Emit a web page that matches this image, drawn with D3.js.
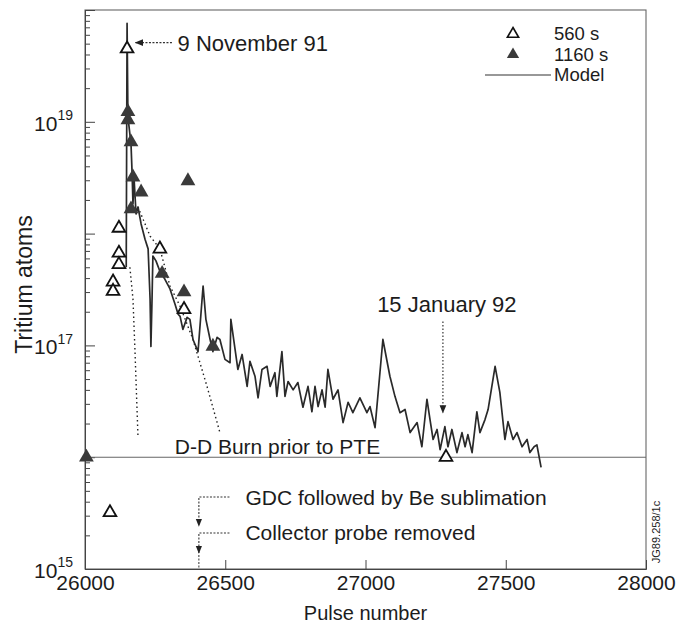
<!DOCTYPE html>
<html>
<head>
<meta charset="utf-8">
<script src="https://cdn.jsdelivr.net/npm/d3@7"></script>
<style>
	body { margin: 0; background: #fff; }
	text { font-family: "Liberation Sans", Arial, Helvetica, sans-serif; fill: #1c1c1c; }
</style>
</head>
<body>
<div id="chart"></div>
<script>

// model curve (pulse number, tritium atoms)
const modelPulse = [ 26147, 26150, 26153, 26164, 26168, 26171, 26175, 26182, 26189, 26200,
	26214, 26225, 26232, 26235, 26239, 26242, 26253, 26267, 26285, 26303,
	26321, 26332, 26339, 26349, 26364, 26374, 26385, 26403, 26421, 26431,
	26446, 26456, 26471, 26481, 26499, 26517, 26520, 26535, 26545, 26560,
	26578, 26588, 26606, 26617, 26631, 26649, 26660, 26677, 26684, 26702,
	26713, 26724, 26742, 26759, 26777, 26795, 26809, 26820, 26831, 26845,
	26856, 26866, 26884, 26902, 26920, 26938, 26955, 26980, 27005, 27016,
	27034, 27062, 27087, 27105, 27123, 27141, 27159, 27184, 27201, 27219,
	27230, 27241, 27255, 27266, 27283, 27294, 27308, 27326, 27344, 27355,
	27365, 27380, 27397, 27408, 27426, 27437, 27462, 27479, 27497, 27508,
	27526, 27540, 27558, 27576, 27586, 27601, 27611, 27626 ];
const modelAtoms = [ 5.0e17, 7.6e19, 1.11e19, 6.35e18, 3.42e18, 1.84e18, 3.08e18, 1.5e18, 1.73e18, 1.22e18,
	8.9e17, 7.3e17, 2.6e17, 9.8e16, 2.6e17, 6.3e17, 5.7e17, 4.6e17, 3.9e17, 3.2e17,
	2.33e17, 1.9e17, 1.82e17, 1.39e17, 1.78e17, 1.71e17, 1.13e17, 8.8e16, 3.4e17, 1.71e17,
	1.13e17, 8.8e16, 1.18e17, 1.13e17, 7.5e16, 7.0e16, 1.71e17, 9.2e16, 6.1e16, 8.3e16,
	4.3e16, 7.2e16, 5.3e16, 3.4e16, 6.1e16, 6.5e16, 4.3e16, 5.7e16, 3.5e16, 8.8e16,
	3.5e16, 4.75e16, 4.0e16, 4.65e16, 2.8e16, 4.3e16, 2.55e16, 4.3e16, 2.84e16, 4.0e16,
	2.8e16, 6.1e16, 3.3e16, 4.0e16, 2.04e16, 3.1e16, 2.5e16, 3.4e16, 2.5e16, 2.84e16,
	1.84e16, 1.13e17, 5.3e16, 3.5e16, 2.5e16, 2.67e16, 1.66e16, 2.04e16, 1.24e16, 3.3e16,
	2.17e16, 1.44e16, 1.77e16, 1.17e16, 1.88e16, 1.24e16, 1.77e16, 1.1e16, 1.66e16, 1.24e16,
	1.59e16, 1.1e16, 2.55e16, 1.66e16, 2.17e16, 2.67e16, 6.5e16, 3.8e16, 1.44e16, 2.08e16,
	1.44e16, 1.66e16, 1.24e16, 1.44e16, 1.1e16, 1.24e16, 1.29e16, 8.1e15 ];

// measured, 560 s (open triangles)
const pulse560 = [ 26150, 26121, 26121, 26121, 26100, 26100, 26267, 26353, 26089, 27287 ];
const atoms560 = [ 4.5e19, 1.12e18, 6.7e17, 5.3e17, 3.7e17, 3.05e17, 7.3e17, 2.1e17, 3.2e15, 1.0e16 ];

// measured, 1160 s (filled triangles)
const pulse1160 = [ 26153, 26153, 26164, 26171, 26200, 26164, 26367, 26275, 26353, 26456, 26005 ];
const atoms1160 = [ 1.23e19, 1.04e19, 6.6e18, 3.2e18, 2.35e18, 1.66e18, 2.96e18, 4.4e17, 3.0e17, 9.8e16, 1.0e16 ];

// dotted decay curves
const decay1Pulse = [ 26160, 26171, 26178, 26189 ];
const decay1Atoms = [ 5.0e17, 2.6e17, 9.2e16, 1.5e16 ];
const decay2Pulse = [ 26189, 26232, 26267, 26303, 26339, 26385, 26435, 26481 ];
const decay2Atoms = [ 1.73e18, 9.5e17, 7.3e17, 3.4e17, 2.24e17, 1.13e17, 4.3e16, 1.66e16 ];

const ddBurnLevel = 1e16;
const xTicks = [ 26000, 26500, 27000, 27500, 28000 ];
const yLabelExp = [ 15, 17, 19 ];
const legendNames = [ "560 s", "1160 s", "Model" ];

///////////////////////////////////////////////////////////////////////

const width = 681, height = 630;
const margin = { top: 10, right: 35, bottom: 61, left: 85 };

const svg = d3.select( "#chart" ).append( "svg" )
	.attr( "width", width )
	.attr( "height", height );

const x = d3.scaleLinear()
	.domain( [ 26000, 28000 ] )
	.range( [ margin.left, width - margin.right ] );

const y = d3.scaleLog()
	.domain( [ 1e15, 1e20 ] )
	.range( [ height - margin.bottom, margin.top ] );

const defs = svg.append( "defs" );
defs.append( "marker" )
	.attr( "id", "head" )
	.attr( "viewBox", "0 0 10 10" )
	.attr( "refX", 9 ).attr( "refY", 5 )
	.attr( "markerWidth", 7 ).attr( "markerHeight", 7 )
	.attr( "orient", "auto" )
	.append( "path" )
		.attr( "d", "M0,1 L10,5 L0,9 Z" )
		.attr( "fill", "#222" );

// frame
svg.append( "rect" )
	.attr( "x", x.range()[ 0 ] )
	.attr( "y", y.range()[ 1 ] )
	.attr( "width", x.range()[ 1 ] - x.range()[ 0 ] )
	.attr( "height", y.range()[ 0 ] - y.range()[ 1 ] )
	.attr( "fill", "none" )
	.attr( "stroke", "#666" )
	.attr( "stroke-width", 1.1 );

// y axis, minor + major ticks pointing inward
let minor = [];
for( let e = 15; e < 20; e++ )	{
	for( let k = 2; k <= 9; k++ ) minor.push( k * Math.pow( 10, e ) );
}
let major = d3.range( 15, 21 ).map( e => Math.pow( 10, e ) );

svg.append( "g" )
	.attr( "transform", "translate(" + x.range()[ 0 ] + ",0)" )
	.call( d3.axisLeft( y ).tickValues( minor ).tickSize( -5 ).tickFormat( "" ) )
	.call( g => g.select( ".domain" ).remove() )
	.call( g => g.selectAll( "line" ).attr( "stroke", "#444" ) );

const yAxis = svg.append( "g" )
	.attr( "transform", "translate(" + x.range()[ 0 ] + ",0)" )
	.call( d3.axisLeft( y ).tickValues( major ).tickSize( -10 ).tickPadding( 12 ).tickFormat( "" ) )
	.call( g => g.select( ".domain" ).attr( "stroke", "#444" ) )
	.call( g => g.selectAll( "line" ).attr( "stroke", "#444" ) );

yAxis.selectAll( ".tick" ).each( function( d )	{
	let e = Math.round( Math.log10( d ) );
	if( yLabelExp.indexOf( e ) < 0 ) return;
	let t = d3.select( this ).select( "text" )
		.attr( "font-size", 21 )
		.attr( "fill", "#1c1c1c" )
		.attr( "dy", "0.4em" );
	t.append( "tspan" ).text( "10" );
	t.append( "tspan" ).text( e ).attr( "font-size", 14 ).attr( "dy", "-0.75em" );
} );

// x axis
svg.append( "g" )
	.attr( "transform", "translate(0," + y.range()[ 0 ] + ")" )
	.call( d3.axisBottom( x ).tickValues( xTicks ).tickSize( -9 ).tickPadding( 6 ).tickFormat( d3.format( "d" ) ) )
	.call( g => g.select( ".domain" ).attr( "stroke", "#444" ) )
	.call( g => g.selectAll( "line" ).attr( "stroke", "#444" ) )
	.call( g => g.selectAll( "text" ).attr( "font-size", 21 ).attr( "fill", "#1c1c1c" ) );

// axis titles
svg.append( "text" )
	.attr( "x", ( x.range()[ 0 ] + x.range()[ 1 ] ) / 2 )
	.attr( "y", 620 )
	.attr( "text-anchor", "middle" )
	.attr( "font-size", 20 )
	.text( "Pulse number" );

svg.append( "text" )
	.attr( "transform", "translate(32," + y( 3.5e17 ) + ") rotate(-90)" )
	.attr( "text-anchor", "middle" )
	.attr( "font-size", 23 )
	.text( "Tritium atoms" );

// D-D burn level
svg.append( "line" )
	.attr( "x1", x.range()[ 0 ] ).attr( "x2", x.range()[ 1 ] )
	.attr( "y1", y( ddBurnLevel ) ).attr( "y2", y( ddBurnLevel ) )
	.attr( "stroke", "#666" )
	.attr( "stroke-width", 1.1 );

svg.append( "text" )
	.attr( "x", x( 26320 ) )
	.attr( "y", y( ddBurnLevel ) - 3 )
	.attr( "font-size", 21 )
	.text( "D-D Burn prior to PTE" );

// decay curves
let line = d3.line()
	.x( d => x( d[ 0 ] ) )
	.y( d => y( d[ 1 ] ) );

[ [ decay1Pulse, decay1Atoms ], [ decay2Pulse, decay2Atoms ] ].forEach( function( c )	{
	svg.append( "path" )
		.datum( d3.zip( c[ 0 ], c[ 1 ] ) )
		.attr( "d", line )
		.attr( "fill", "none" )
		.attr( "stroke", "#222" )
		.attr( "stroke-width", 1.4 )
		.attr( "stroke-dasharray", "1.5,3" );
} );

// model
svg.append( "path" )
	.datum( d3.zip( modelPulse, modelAtoms ) )
	.attr( "d", line )
	.attr( "fill", "none" )
	.attr( "stroke", "#2a2a2a" )
	.attr( "stroke-width", 1.7 )
	.attr( "stroke-linejoin", "round" );

// triangles
let tri = d3.symbol().type( d3.symbolTriangle );

svg.append( "g" ).selectAll( "path" )
	.data( d3.zip( pulse1160, atoms1160 ) )
	.join( "path" )
		.attr( "transform", d => "translate(" + x( d[ 0 ] ) + "," + y( d[ 1 ] ) + ")" )
		.attr( "d", tri.size( 95 ) )
		.attr( "fill", "#3a3a3a" );

svg.append( "g" ).selectAll( "path" )
	.data( d3.zip( pulse560, atoms560 ) )
	.join( "path" )
		.attr( "transform", d => "translate(" + x( d[ 0 ] ) + "," + y( d[ 1 ] ) + ")" )
		.attr( "d", tri.size( 70 ) )
		.attr( "fill", "#fff" )
		.attr( "stroke", "#111" )
		.attr( "stroke-width", 1.8 );

// annotations
function arrow( x1, y1, x2, y2, dash )	{
	svg.append( "line" )
		.attr( "x1", x1 ).attr( "y1", y1 )
		.attr( "x2", x2 ).attr( "y2", y2 )
		.attr( "stroke", "#333" )
		.attr( "stroke-width", 1.2 )
		.attr( "stroke-dasharray", dash )
		.attr( "marker-end", "url(#head)" );
}

arrow( x( 26310 ), y( 5.1e19 ), x( 26180 ), y( 5.1e19 ), "2,1.5" );
svg.append( "text" )
	.attr( "x", x( 26330 ) ).attr( "y", y( 5.1e19 ) + 8 )
	.attr( "font-size", 22 )
	.text( "9 November 91" );

arrow( x( 27276 ), y( 1.64e17 ), x( 27276 ), y( 2.5e16 ), "1.5,2" );
svg.append( "text" )
	.attr( "x", x( 27290 ) ).attr( "y", y( 2.0e17 ) )
	.attr( "text-anchor", "middle" )
	.attr( "font-size", 22 )
	.text( "15 January 92" );

// GDC / collector probe
const eventPulse = 26406;
const gdcY = y( 4.4e15 ), probeY = y( 2.1e15 );
svg.append( "path" )
	.attr( "d", "M" + x( 26515 ) + "," + gdcY + "H" + x( eventPulse ) + "V" + ( probeY - 7 ) )
	.attr( "fill", "none" ).attr( "stroke", "#333" ).attr( "stroke-width", 1.1 )
	.attr( "stroke-dasharray", "2,1.5" )
	.attr( "marker-end", "url(#head)" );
svg.append( "path" )
	.attr( "d", "M" + x( 26515 ) + "," + probeY + "H" + x( eventPulse ) + "V" + ( y.range()[ 0 ] - 16 ) )
	.attr( "fill", "none" ).attr( "stroke", "#333" ).attr( "stroke-width", 1.1 )
	.attr( "stroke-dasharray", "2,1.5" )
	.attr( "marker-end", "url(#head)" );
svg.append( "line" )
	.attr( "x1", x( eventPulse ) ).attr( "x2", x( eventPulse ) )
	.attr( "y1", y.range()[ 0 ] - 14 ).attr( "y2", y.range()[ 0 ] )
	.attr( "stroke", "#333" ).attr( "stroke-dasharray", "2,1.5" );

svg.append( "text" )
	.attr( "x", x( 26572 ) ).attr( "y", gdcY + 8 )
	.attr( "font-size", 21 )
	.text( "GDC followed by Be sublimation" );
svg.append( "text" )
	.attr( "x", x( 26572 ) ).attr( "y", probeY + 7 )
	.attr( "font-size", 21 )
	.text( "Collector probe removed" );

// legend
const legX = 513, legY = 34, legStep = 20.5;
svg.append( "path" )
	.attr( "transform", "translate(" + legX + "," + legY + ")" )
	.attr( "d", d3.symbol().type( d3.symbolTriangle ).size( 55 ) )
	.attr( "fill", "#fff" ).attr( "stroke", "#111" ).attr( "stroke-width", 1.6 );
svg.append( "path" )
	.attr( "transform", "translate(" + legX + "," + ( legY + legStep ) + ")" )
	.attr( "d", d3.symbol().type( d3.symbolTriangle ).size( 65 ) )
	.attr( "fill", "#3a3a3a" );
svg.append( "line" )
	.attr( "x1", 485 ).attr( "x2", 551 )
	.attr( "y1", legY + 2 * legStep ).attr( "y2", legY + 2 * legStep )
	.attr( "stroke", "#333" ).attr( "stroke-width", 1.2 );

legendNames.forEach( function( s, i )	{
	svg.append( "text" )
		.attr( "x", 554 )
		.attr( "y", legY + i * legStep + 6 )
		.attr( "font-size", 18.5 )
		.text( s );
} );

// figure code
svg.append( "text" )
	.attr( "transform", "translate(" + ( x.range()[ 1 ] + 14 ) + ",532) rotate(-90)" )
	.attr( "text-anchor", "middle" )
	.attr( "font-size", 11 )
	.attr( "fill", "#444" )
	.text( "JG89.258/1c" );

</script>
</body>
</html>
